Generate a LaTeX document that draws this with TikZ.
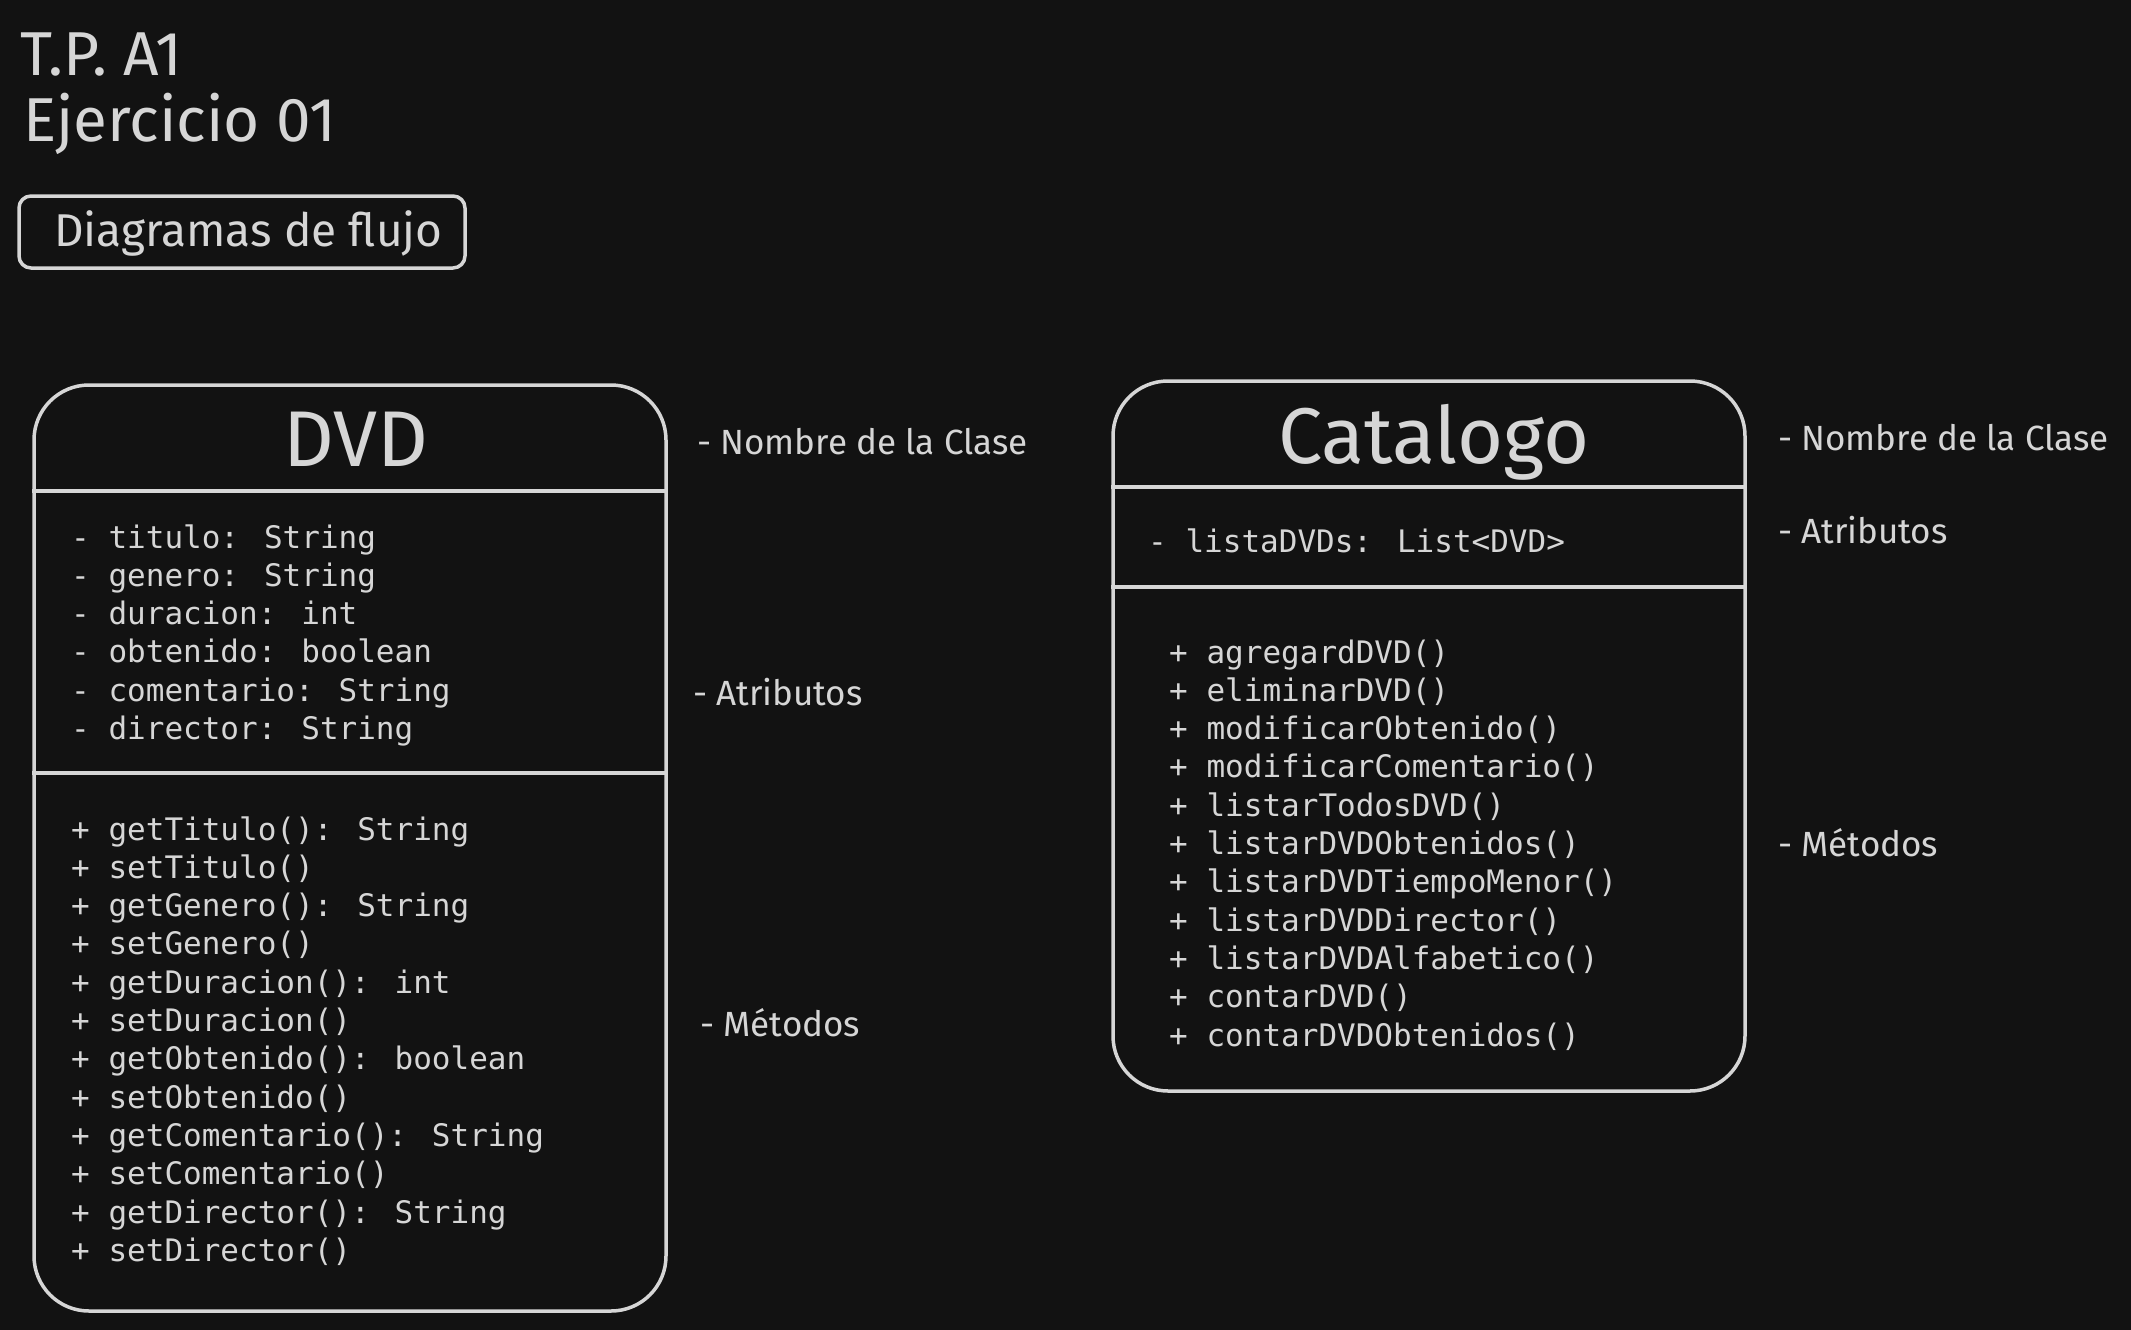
\documentclass[tikz,border=0pt]{standalone}
\usepackage{fontspec}
\setmainfont{Fira Sans}
\newfontfamily\codefont{DejaVu Sans Mono}
\definecolor{bgc}{HTML}{121212}
\definecolor{fgc}{HTML}{D6D6D6}
\tikzset{
  hand/.style={text=fgc, inner sep=0pt},
  titletxt/.style={hand, anchor=base west, font=\fontsize{62}{70}\selectfont},
  labeltxt/.style={hand, anchor=west, font=\fontsize{35}{40}\selectfont},
  classname/.style={hand, anchor=base, font=\fontsize{79}{90}\selectfont},
  codetxt/.style={hand, anchor=base west, font=\codefont\fontsize{31}{36}\selectfont},
  classbox/.style={draw=fgc, line width=3.5pt, rounded corners=55pt, inner sep=0pt},
  divider/.style={draw=fgc, line width=3.5pt},
  tagbox/.style={draw=fgc, line width=3.5pt, rounded corners=12pt, inner sep=0pt}
}
\begin{document}
\begin{tikzpicture}[x=1pt,y=-1pt]
\fill[bgc] (0,0) rectangle (2131,1330);
\useasboundingbox (0,0) rectangle (2131,1330);

% header
\node[titletxt] (tp) at (20,75) {T.P. A1};
\node[titletxt] (ej) at (23,141) {Ejercicio 01};
\node[tagbox, minimum width=446pt, minimum height=72pt] (tag) at (242,232) {};
\node[hand, anchor=base west, font=\fontsize{46}{52}\selectfont] (tagtxt) at (54,246) {Diagramas de flujo};

% DVD class
\node[classbox, minimum width=632pt, minimum height=926pt] (dvd) at (350,848) {};
\coordinate (d1) at (0,491);
\coordinate (d2) at (0,773);
\draw[divider] (dvd.west |- d1) -- (dvd.east |- d1);
\draw[divider] (dvd.west |- d2) -- (dvd.east |- d2);
\node[classname] (dvdname) at (356,466) {DVD};
\foreach \t [count=\i] in {- titulo: String, - genero: String, - duracion: int, - obtenido: boolean, - comentario: String, - director: String}
  \node[codetxt] (dvda\i) at (71,{548+38.3*(\i-1)}) {\t};
\foreach \t [count=\i] in {+ getTitulo(): String, + setTitulo(), + getGenero(): String, + setGenero(), + getDuracion(): int, + setDuracion(), + getObtenido(): boolean, + setObtenido(), + getComentario(): String, + setComentario(), + getDirector(): String, + setDirector()}
  \node[codetxt] (dvdm\i) at (71,{840+38.3*(\i-1)}) {\t};
\node[labeltxt] (dvdl1) at (697,442) {- Nombre de la Clase};
\node[labeltxt] (dvdl2) at (693,692) {- Atributos};
\node[labeltxt] (dvdl3) at (700,1023) {- Métodos};

% Catalogo class
\node[classbox, minimum width=632pt, minimum height=710pt] (cat) at (1429,736) {};
\coordinate (c1) at (0,487);
\coordinate (c2) at (0,587);
\draw[divider] (cat.west |- c1) -- (cat.east |- c1);
\draw[divider] (cat.west |- c2) -- (cat.east |- c2);
\node[classname] (catname) at (1434,463) {Catalogo};
\node[codetxt] (cata1) at (1148,552) {- listaDVDs: List<DVD>};
\foreach \t [count=\i] in {+ agregardDVD(), + eliminarDVD(), + modificarObtenido(), + modificarComentario(), + listarTodosDVD(), + listarDVDObtenidos(), + listarDVDTiempoMenor(), + listarDVDDirector(), + listarDVDAlfabetico(), + contarDVD(), + contarDVDObtenidos()}
  \node[codetxt] (catm\i) at (1169,{663+38.3*(\i-1)}) {\t};
\node[labeltxt] (catl1) at (1778,438) {- Nombre de la Clase};
\node[labeltxt] (catl2) at (1778,530) {- Atributos};
\node[labeltxt] (catl3) at (1778,843) {- Métodos};
\end{tikzpicture}
\end{document}
